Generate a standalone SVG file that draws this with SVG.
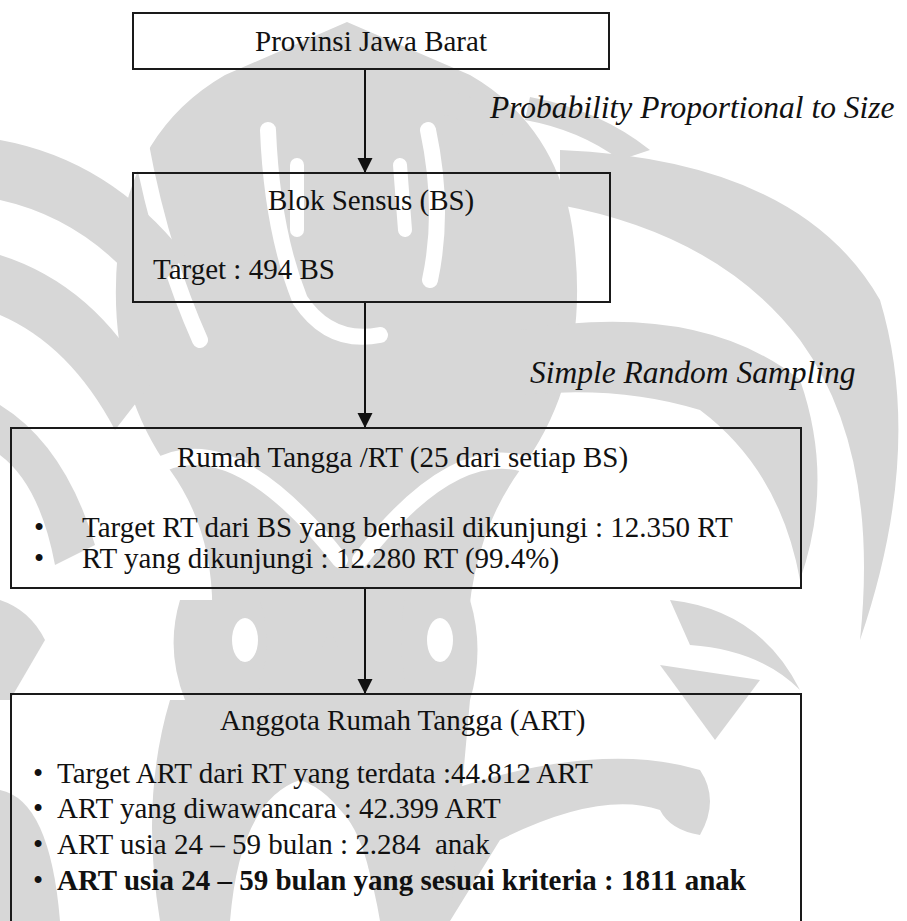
<svg xmlns="http://www.w3.org/2000/svg" width="907" height="921" viewBox="0 0 907 921">
<style>
.t{font-family:"Liberation Serif","Times New Roman",serif;font-size:29px;fill:#111}
.i{font-style:italic;font-size:31.5px}
.b{font-weight:bold}
.box{fill:none;stroke:#1a1a1a;stroke-width:2}
.ln{stroke:#111;stroke-width:2;fill:none}
.wm{fill:#d7d7d7}
.ws{fill:none;stroke:#d7d7d7;stroke-linecap:round}
.wh{fill:none;stroke:#fff;stroke-linecap:round}
.wf{fill:#fff}
</style>
<defs>
<marker id="ah" markerUnits="userSpaceOnUse" markerWidth="16" markerHeight="16" refX="15" refY="7.5" orient="auto"><path d="M0,0 L15,7.5 L0,15 Z" fill="#111"/></marker>
</defs>
<rect width="907" height="921" fill="#fff"/>
<g id="watermark">
<path class="wm" d="M347,22 L470,75 Q565,130 575,250 Q588,380 520,470 Q455,560 470,700 L200,700 Q235,560 170,470 Q105,380 118,250 Q130,130 225,75 Z"/>
<path class="wh" stroke-width="16" d="M140,140 Q160,250 200,340"/>
<path class="wh" stroke-width="16" d="M268,130 Q272,230 300,300 Q330,345 380,335"/>
<path class="wh" stroke-width="16" d="M428,130 Q445,210 430,280"/>
<path class="wh" stroke-width="14" d="M297,165 L297,230"/>
<path class="wh" stroke-width="14" d="M400,165 L405,230"/>
<path class="wh" stroke-width="16" d="M150,470 Q230,420 340,560"/>
<path class="wh" stroke-width="16" d="M540,470 Q460,430 360,560"/>
<path class="wm" d="M560,150 Q800,160 880,300 Q925,450 860,640 Q880,450 800,340 Q720,235 560,205 Z"/>
<path class="wm" d="M520,330 Q700,300 800,380 Q835,480 800,580 Q780,470 700,410 Q620,385 520,395 Z"/>
<path class="wm" d="M440,90 Q500,95 505,150 L480,150 Q470,115 440,115 Z"/>
<path class="wm" d="M530,97 Q600,110 650,150 L620,160 Q580,130 525,120 Z"/>
<path class="wm" d="M0,140 Q110,160 185,255 L150,300 Q90,220 0,200 Z"/>
<path class="wm" d="M0,255 Q95,285 150,385 L115,430 Q70,345 0,315 Z"/>
<path class="wm" d="M0,405 Q65,445 95,545 L55,565 Q40,485 0,455 Z"/>
<path class="wm" d="M0,600 Q30,610 45,640 L10,700 L0,700 Z"/>
<path class="wm" d="M0,790 Q50,800 60,921 L0,921 Z"/>
<path class="wm" d="M180,600 L260,600 Q275,650 255,700 L185,700 Q165,650 180,600 Z"/>
<ellipse class="wf" cx="245" cy="640" rx="13" ry="22"/>
<path class="wm" d="M300,662 L330,600 L360,662 L345,662 L330,630 L315,662 Z"/>
<path class="wm" d="M405,600 L470,600 Q485,650 470,700 L410,700 Q395,650 405,600 Z"/>
<ellipse class="wf" cx="440" cy="640" rx="13" ry="22"/>
<path class="wm" d="M670,600 Q760,610 800,690 Q760,650 690,645 Z"/>
<path class="wm" d="M660,665 L760,680 L715,740 Z"/>
<path class="wm" d="M450,790 Q600,740 700,770 Q720,800 700,835 Q670,830 660,810 Q600,790 500,840 L450,921 Z"/>
<path class="wm" d="M170,700 L470,700 L450,921 L380,921 Q360,800 300,780 Q240,800 230,921 L160,921 Q140,800 170,700 Z"/>
<path class="wh" stroke-width="14" d="M250,921 Q270,820 320,805 Q360,820 370,921"/>
</g>
<g id="connectors">
<line class="ln" x1="365" y1="69" x2="365" y2="173" marker-end="url(#ah)"/>
<line class="ln" x1="365" y1="302" x2="365" y2="428" marker-end="url(#ah)"/>
<line class="ln" x1="365" y1="588" x2="365" y2="694" marker-end="url(#ah)"/>
<text class="t i" x="490" y="118">Probability Proportional to Size</text>
<text class="t i" x="530" y="383">Simple Random Sampling</text>
</g>
<g id="n1">
<rect class="box" x="133" y="13" width="476" height="56"/>
<text class="t" x="255" y="51">Provinsi Jawa Barat</text>
</g>
<g id="n2">
<rect class="box" x="133" y="173" width="477" height="129"/>
<text class="t" x="268" y="210">Blok Sensus (BS)</text>
<text class="t" x="153" y="279">Target : 494 BS</text>
</g>
<g id="n3">
<rect class="box" x="11" y="428" width="790" height="160"/>
<text class="t" x="177" y="467">Rumah Tangga /RT (25 dari setiap BS)</text>
<text class="t" x="34" y="537">•</text>
<text class="t" x="82" y="537">Target RT dari BS yang berhasil dikunjungi : 12.350 RT</text>
<text class="t" x="34" y="568">•</text>
<text class="t" x="82" y="568">RT yang dikunjungi : 12.280 RT (99.4%)</text>
</g>
<g id="n4">
<rect class="box" x="11" y="694" width="790" height="240"/>
<text class="t" x="220" y="730">Anggota Rumah Tangga (ART)</text>
<text class="t" x="33" y="783">•</text>
<text class="t" x="57" y="783">Target ART dari RT yang terdata :44.812 ART</text>
<text class="t" x="33" y="818">•</text>
<text class="t" x="57" y="818">ART yang diwawancara : 42.399 ART</text>
<text class="t" x="33" y="854">•</text>
<text class="t" x="57" y="854" style="white-space:pre">ART usia 24 – 59 bulan : 2.284  anak</text>
<text class="t" x="33" y="890">•</text>
<text class="t b" x="57" y="890">ART usia 24 – 59 bulan yang sesuai kriteria : 1811 anak</text>
</g>
</svg>
